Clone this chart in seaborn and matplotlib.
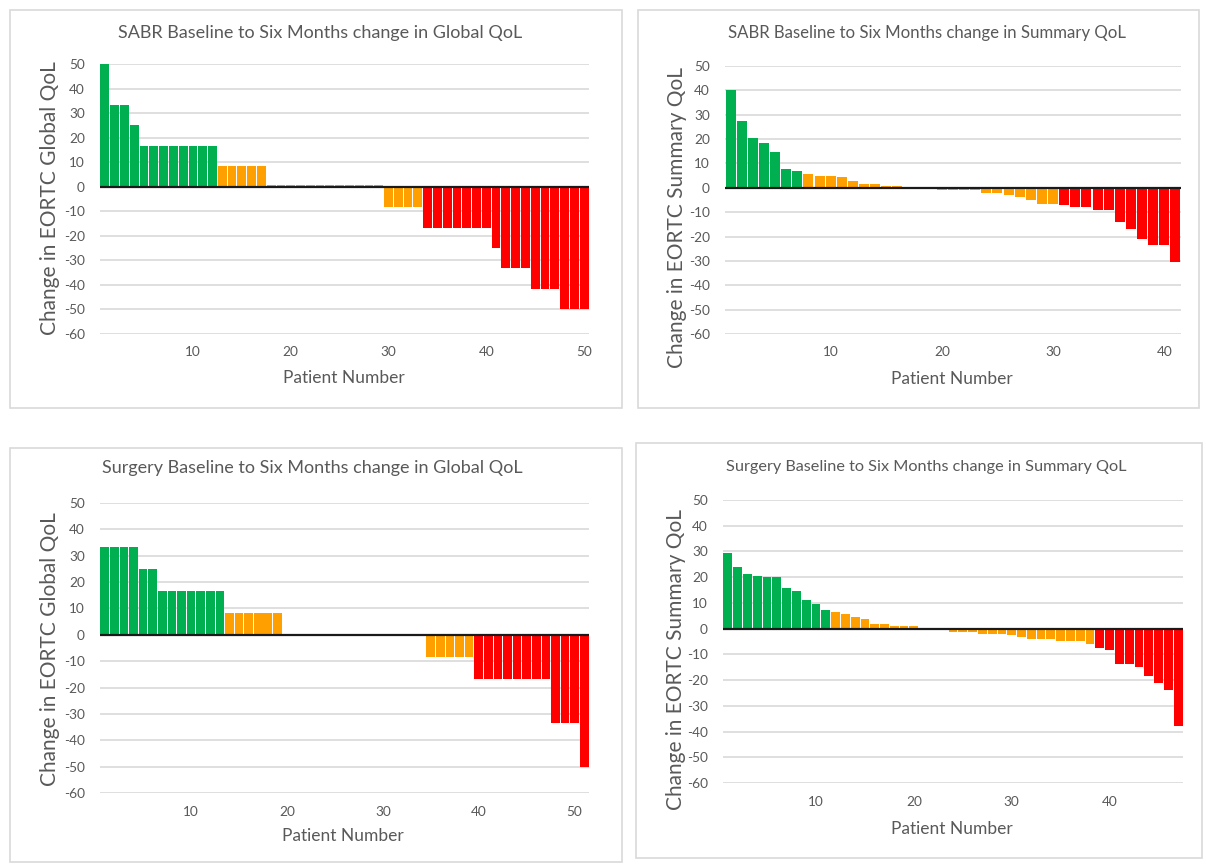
import numpy as np
import pandas as pd
import seaborn as sns
import matplotlib.pyplot as plt
from matplotlib.patches import Rectangle

sns.set_theme(style="white")
plt.rcParams['font.family'] = ['Lato', 'DejaVu Sans']
plt.rcParams['axes.unicode_minus'] = False

# Data
sabr_global = [50, 33.3, 33.3, 25, 16.7, 16.7, 16.7, 16.7, 16.7, 16.7, 16.7, 16.7,
               8.3, 8.3, 8.3, 8.3, 8.3,
               0.8, 0.8, 0.8, 0.8, 0.8, 0.8, 0.8, 0.8, 0.8, 0.8, 0.8, 0.8,
               -8.3, -8.3, -8.3, -8.3,
               -16.7, -16.7, -16.7, -16.7, -16.7, -16.7, -16.7, -25,
               -33.3, -33.3, -33.3, -41.7, -41.7, -41.7, -50, -50, -50]
sabr_summary = [40, 27.5, 20.6, 18.5, 14.6, 7.7, 7.0,
                5.6, 5.0, 5.0, 4.3, 2.9, 1.5, 1.5, 0.8, 0.8, 0, 0, 0,
                -1.0, -1.0, -1.0, -1.0, -2.3, -2.3, -3.0, -3.7, -5.2, -6.5, -6.5,
                -7.1, -8.0, -8.0, -9.2, -9.2, -14.1, -16.9, -20.9, -23.6, -23.6, -30.5]
surgery_global = [33.3, 33.3, 33.3, 33.3, 25, 25,
                  16.7, 16.7, 16.7, 16.7, 16.7, 16.7, 16.7,
                  8.3, 8.3, 8.3, 8.3, 8.3, 8.3,
                  0, 0, 0, 0, 0, 0, 0, 0, 0, 0, 0, 0, 0, 0, 0,
                  -8.3, -8.3, -8.3, -8.3, -8.3,
                  -16.7, -16.7, -16.7, -16.7, -16.7, -16.7, -16.7, -16.7,
                  -33.3, -33.3, -33.3, -50]
surgery_summary = [29.5, 23.8, 21.2, 20.5, 20.0, 20.0, 15.7, 14.5, 11.0, 9.7, 7.1,
                   6.4, 5.6, 4.4, 3.6, 1.7, 1.7, 0.9, 0.9, 0.9, 0, 0, 0,
                   -1.3, -1.3, -1.3, -2.0, -2.0, -2.0, -2.6, -3.4, -3.9, -3.9, -3.9,
                   -4.8, -4.8, -4.8, -5.9,
                   -7.4, -8.2, -13.7, -13.7, -14.9, -18.5, -21.1, -23.9, -38.0]

titles = ["SABR Baseline to Six Months change in Global QoL",
          "SABR Baseline to Six Months change in Summary QoL",
          "Surgery Baseline to Six Months change in Global QoL",
          "Surgery Baseline to Six Months change in Summary QoL"]
ylabels = ["Change in EORTC Global QoL", "Change in EORTC Summary QoL",
           "Change in EORTC Global QoL", "Change in EORTC Summary QoL"]
# clinically meaningful change cut-offs (global vs summary score)
cutoffs = [10, 7, 10, 7]

palette = {"Improved": "#00B050", "Stable": "#FFA000", "Worse": "#FF0000"}

fig = plt.figure(figsize=(12.06, 8.66), dpi=100)
W, H = 1206, 866

def fx(x):
    return x / W

def fy(y):
    return 1 - y / H

# panel boxes (chart areas)
boxes = [(10, 10, 622, 408), (638, 10, 1199, 408), (10, 448, 622, 862), (636, 443, 1202, 858)]
for x0, y0, x1, y1 in boxes:
    fig.patches.append(Rectangle((fx(x0), fy(y1)), fx(x1 - x0), (y1 - y0) / H,
                                 transform=fig.transFigure, fill=False,
                                 edgecolor="#D9D9D9", linewidth=1.2))

# plot areas in pixels: left, top, right, bottom
areas = [(100, 64, 589, 334), (725, 66, 1181, 334), (100, 503, 589, 793), (723, 500, 1183, 783)]
title_pos = [(320, 33), (927, 33), (312, 468), (926, 467)]
title_size = [13, 12.1, 13, 11.7]
ylab_pos = [(50, 198), (677, 217), (50, 649), (676, 660)]
xlab_pos = [(344, 378), (952, 379), (343, 836), (952, 829)]

series = [sabr_global, sabr_summary, surgery_global, surgery_summary]

for i, vals in enumerate(series):
    l, t, r, b = areas[i]
    ax = fig.add_axes([fx(l), fy(b), fx(r - l), (b - t) / H])
    df = pd.DataFrame({"Patient": np.arange(1, len(vals) + 1), "Change": vals})
    df["Group"] = np.where(df["Change"] >= cutoffs[i], "Improved",
                           np.where(df["Change"] <= -cutoffs[i], "Worse", "Stable"))
    sns.barplot(data=df, x="Patient", y="Change", hue="Group", palette=palette,
                native_scale=True, dodge=False, width=0.9, linewidth=0,
                saturation=1, legend=False, ax=ax)
    ax.set_xlim(0.5, len(vals) + 0.5)
    ax.set_ylim(-60, 50)
    ax.set_yticks(np.arange(-60, 51, 10))
    ax.set_xticks(np.arange(10, len(vals) + 1, 10))
    ax.grid(axis="y", color="#D9D9D9", linewidth=1.2)
    ax.set_axisbelow(True)
    ax.axhline(0, color="#1a1a1a", linewidth=1.6)
    for s in ax.spines.values():
        s.set_visible(False)
    ax.tick_params(axis="both", length=0, labelsize=9.8, colors="#595959")
    ax.tick_params(axis="x", pad=9)
    ax.tick_params(axis="y", pad=11)
    ax.set_xlabel("")
    ax.set_ylabel("")

    fig.text(fx(title_pos[i][0]), fy(title_pos[i][1]), titles[i], ha="center", va="center",
             fontsize=title_size[i], color="#595959")
    fig.text(fx(ylab_pos[i][0]), fy(ylab_pos[i][1]), ylabels[i], ha="center", va="center",
             rotation=90, fontsize=15, color="#595959")
    fig.text(fx(xlab_pos[i][0]), fy(xlab_pos[i][1]), "Patient Number", ha="center", va="center",
             fontsize=12.5, color="#595959")

plt.savefig("out.png", dpi=100)
